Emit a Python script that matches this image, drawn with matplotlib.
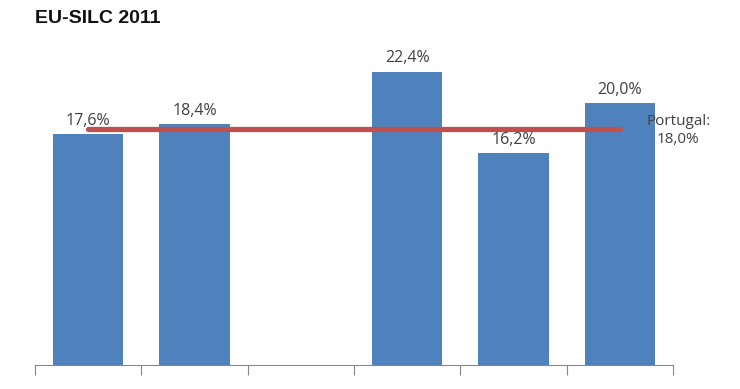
import matplotlib.pyplot as plt
import numpy as np

# data
categories = ["c1", "c2", "c3", "c4", "c5", "c6"]
values = [17.6, 18.4, np.nan, 22.4, 16.2, 20.0]
labels = ["17,6%", "18,4%", "", "22,4%", "16,2%", "20,0%"]
portugal = 18.0
portugal_label = "Portugal:\n18,0%"

fig = plt.figure(figsize=(7.4, 3.89), dpi=100)
ax = fig.add_axes([0.0473, 0.0617, 0.8622, 0.842])

x = np.arange(len(categories))
ax.bar(x, values, width=0.66, color='#4F81BD')
for i, (v, lab) in enumerate(zip(values, labels)):
    if lab:
        ax.text(i, v + 0.4, lab, ha='center', va='bottom', fontsize=11.5,
                color='#404040', family='Open Sans')

ax.plot([x[0], x[-1]], [portugal, portugal], color='#C0504D', lw=3.8,
        solid_capstyle='round')
ax.text(5.55, portugal - 0.1, portugal_label, ha='center', va='center',
        fontsize=11, color='#404040', family='Open Sans', linespacing=1.25)

ax.set_xlim(-0.5, 5.5)
ax.set_ylim(0, 25)
ax.set_xticks(np.arange(-0.5, 6, 1))
ax.set_xticklabels([])
ax.set_yticks([])
for s in ['top', 'right', 'left']:
    ax.spines[s].set_visible(False)
ax.spines['bottom'].set_color('#868686')
ax.tick_params(axis='x', direction='out', length=7, color='#868686')

fig.text(0.0473, 0.953, "EU-SILC 2011", fontsize=14, fontweight='bold',
         family='Liberation Sans', va='center', ha='left', color='#111111')

fig.savefig('out.png', dpi=100)
